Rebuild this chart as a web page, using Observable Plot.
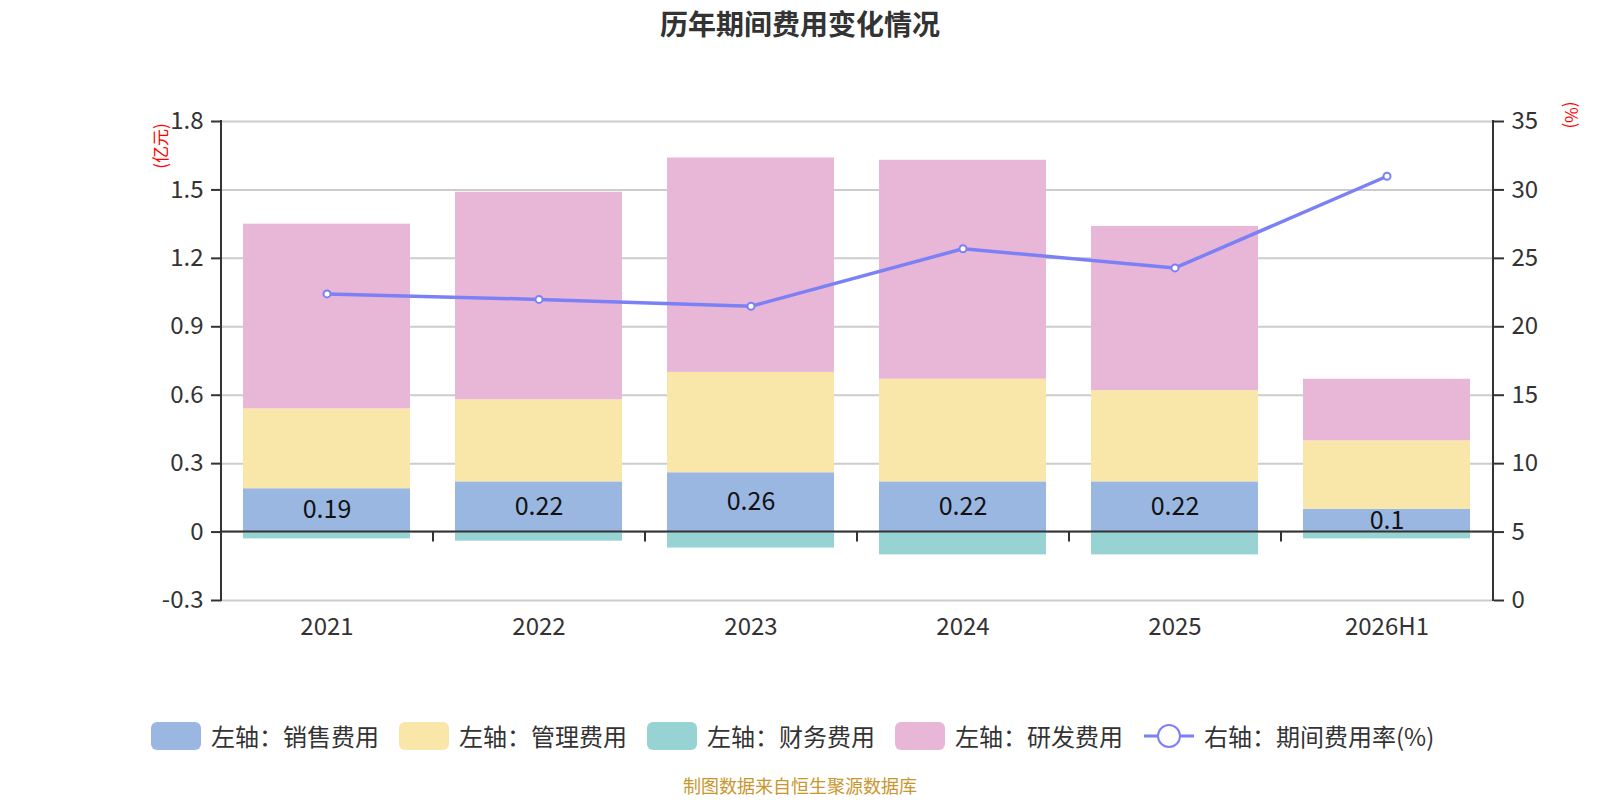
<!DOCTYPE html>
<html>
<head>
<meta charset="utf-8">
<script src="https://cdn.jsdelivr.net/npm/d3@7"></script>
<script src="https://cdn.jsdelivr.net/npm/@observablehq/plot@0.6"></script>
<style>
  body { margin: 0; background: #fff; font-family: "Noto Sans CJK SC", "Noto Sans", sans-serif; }
  #wrap { position: relative; width: 1600px; height: 800px; overflow: hidden; background: #fff; }
  #chart { position: absolute; left: 0; top: 0; }
  .title { position: absolute; left: 0; width: 1600px; top: 9px; height: 28px; line-height: 28px; text-align: center;
           font-size: 28px; font-weight: bold; color: #333; }
  .unit { position: absolute; font-size: 17px; color: #ff0000; white-space: nowrap; line-height: 17px; }
  .legend-item { position: absolute; top: 722px; height: 28px; display: flex; align-items: center; }
  .sw { width: 50px; height: 28px; border-radius: 6px; margin-right: 10px; }
  .lt { font-size: 24px; color: #333; line-height: 28px; white-space: nowrap; }
  .caption { position: absolute; left: 0; width: 1600px; top: 775px; text-align: center; font-size: 18px;
             line-height: 20px; color: #c9962e; }
</style>
</head>
<body>
<div id="wrap">
  <div id="chart"></div>
  <div class="title">历年期间费用变化情况</div>
  <div class="unit" style="left:159px;top:146px;transform:translate(-50%,-50%) rotate(-90deg);">(亿元)</div>
  <div class="unit" style="left:1572px;top:115px;transform:translate(-50%,-50%) rotate(90deg);">(%)</div>
  <div id="legend"></div>
  <div class="caption">制图数据来自恒生聚源数据库</div>
</div>
<script>
// ---- data ----
const years = ["2021", "2022", "2023", "2024", "2025", "2026H1"];
const sales = [0.19, 0.22, 0.26, 0.22, 0.22, 0.10];      // 销售费用
const admin = [0.35, 0.36, 0.44, 0.45, 0.40, 0.30];      // 管理费用
const finance = [-0.03, -0.04, -0.07, -0.10, -0.10, -0.03]; // 财务费用
const rnd = [0.81, 0.91, 0.94, 0.96, 0.72, 0.27];        // 研发费用
const rate = [22.4, 22.0, 21.5, 25.7, 24.3, 31.0];       // 期间费用率(%)
const seriesNames = ["销售费用", "管理费用", "财务费用", "研发费用"];
const seriesColors = ["#9ab7e1", "#f8e7a9", "#98d3d3", "#e8b7d7"];
const legendLabels = ["左轴：销售费用", "左轴：管理费用", "左轴：财务费用", "左轴：研发费用"];
const lineLegendLabel = "右轴：期间费用率(%)";
const leftTicks = [-0.3, 0, 0.3, 0.6, 0.9, 1.2, 1.5, 1.8];
const leftTickLabels = ["-0.3", "0", "0.3", "0.6", "0.9", "1.2", "1.5", "1.8"];
const rightTicks = [0, 5, 10, 15, 20, 25, 30, 35];
const rightTickLabels = ["0", "5", "10", "15", "20", "25", "30", "35"];
const lineColor = "#7b80f5";

// ---- derived tables ----
const leftMin = -0.3, leftMax = 1.8, rightMin = 0, rightMax = 35;
const toLeft = r => leftMin + (r - rightMin) / (rightMax - rightMin) * (leftMax - leftMin);
const seriesValues = [sales, admin, finance, rnd];
const rows = [];
years.forEach((y, i) => seriesNames.forEach((s, k) => rows.push({year: y, series: s, value: seriesValues[k][i]})));
const salesRows = years.map((y, i) => ({year: y, value: sales[i]}));
const rateRows = years.map((y, i) => ({year: y, rate: rate[i], ly: toLeft(rate[i])}));
const rightPos = rightTicks.map(toLeft);

const W = 1600, H = 660, mL = 221, mR = 107, mT = 121, mB = 60;

// axis lines + category boundary ticks on zero line
function frameLines(index, scales, values, dims) {
  const g = d3.create("svg:g").attr("stroke", "#333").attr("stroke-width", 2);
  const left = dims.marginLeft, right = dims.width - dims.marginRight;
  const top = dims.marginTop, bottom = dims.height - dims.marginBottom;
  g.append("line").attr("x1", left).attr("x2", left).attr("y1", top - 1).attr("y2", bottom + 1);
  g.append("line").attr("x1", right).attr("x2", right).attr("y1", top - 1).attr("y2", bottom + 1);
  const y0 = scales.y(0);
  g.append("line").attr("x1", left).attr("x2", right).attr("y1", y0).attr("y2", y0);
  const step = (right - left) / years.length;
  for (let i = 1; i < years.length; i++) {
    const x = left + i * step;
    g.append("line").attr("x1", x).attr("x2", x).attr("y1", y0).attr("y2", y0 + 10);
  }
  return g.node();
}

const chart = Plot.plot({
  width: W, height: H,
  marginLeft: mL, marginRight: mR, marginTop: mT, marginBottom: mB,
  style: {fontFamily: '"Noto Sans CJK SC", "Noto Sans", sans-serif', fontSize: "24px", background: "#fff"},
  x: {domain: years, paddingInner: 0.21, paddingOuter: 0.105, label: null},
  y: {domain: [leftMin, leftMax], label: null},
  color: {domain: seriesNames, range: seriesColors},
  marks: [
    Plot.gridY(leftTicks, {stroke: "#cccccc", strokeOpacity: 1, strokeWidth: 2}),
    Plot.barY(rows, Plot.stackY({order: seriesNames}, {x: "year", y: "value", fill: "series", z: "series"})),
    Plot.text(salesRows, {x: "year", y: d => d.value / 2, text: d => String(d.value), fill: "#111", fontSize: 25}),
    frameLines,
    Plot.axisY(leftTicks, {anchor: "left", tickSize: 10, tickPadding: 8, fontSize: 24, color: "#333", strokeWidth: 2,
      tickFormat: d => leftTickLabels[leftTicks.findIndex(t => Math.abs(t - d) < 1e-9)]}),
    Plot.axisY(rightPos, {anchor: "right", tickSize: 10, tickPadding: 8, fontSize: 24, color: "#333", strokeWidth: 2,
      tickFormat: d => rightTickLabels[rightPos.findIndex(t => Math.abs(t - d) < 1e-9)]}),
    Plot.axisX({tickSize: 0, tickPadding: 17, fontSize: 24, color: "#333"}),
    Plot.line(rateRows, {x: "year", y: "ly", stroke: lineColor, strokeWidth: 3.5}),
    Plot.dot(rateRows, {x: "year", y: "ly", r: 3.5, fill: "#fff", stroke: lineColor, strokeWidth: 2})
  ]
});
document.getElementById("chart").appendChild(chart);

// ---- legend ----
const legend = document.getElementById("legend");
const legendLefts = [151, 399, 647, 895];
legendLabels.forEach((lab, k) => {
  const it = document.createElement("div");
  it.className = "legend-item";
  it.style.left = legendLefts[k] + "px";
  it.innerHTML = `<div class="sw" style="background:${seriesColors[k]}"></div><span class="lt">${lab}</span>`;
  legend.appendChild(it);
});
const li = document.createElement("div");
li.className = "legend-item";
li.style.left = "1144px";
li.innerHTML = `<svg width="50" height="28" style="margin-right:10px"><line x1="0" x2="50" y1="14" y2="14" stroke="${lineColor}" stroke-width="3"/><circle cx="25" cy="14" r="11" fill="#fff" stroke="${lineColor}" stroke-width="2"/></svg><span class="lt">${lineLegendLabel}</span>`;
legend.appendChild(li);
</script>
</body>
</html>
